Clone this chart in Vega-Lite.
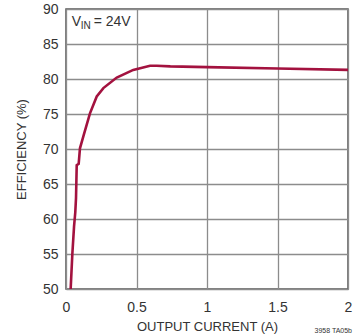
{
  "$schema": "https://vega.github.io/schema/vega-lite/v6.json",
  "width": 282,
  "height": 280,
  "autosize": {"type": "none"},
  "padding": {"left": 66, "top": 9, "right": 5, "bottom": 47},
  "background": "white",
  "config": {
    "view": {"stroke": "#555555", "strokeWidth": 1.5},
    "font": "Liberation Sans",
    "axis": {
      "grid": true,
      "gridColor": "#8c8c8c",
      "gridWidth": 1.3,
      "gridOpacity": 1,
      "domain": false,
      "ticks": false,
      "labelFont": "Liberation Sans",
      "titleFont": "Liberation Sans",
      "labelColor": "#333333",
      "titleColor": "#333333",
      "labelFontSize": 14,
      "titleFontSize": 13,
      "titleFontWeight": "normal",
      "labelOverlap": false
    }
  },
  "data": {
    "values": [
      {"current": 0.033, "efficiency": 50.0},
      {"current": 0.045, "efficiency": 55.0},
      {"current": 0.057, "efficiency": 58.9},
      {"current": 0.066, "efficiency": 61.0},
      {"current": 0.071, "efficiency": 63.0},
      {"current": 0.076, "efficiency": 67.7},
      {"current": 0.090, "efficiency": 67.9},
      {"current": 0.099, "efficiency": 70.1},
      {"current": 0.123, "efficiency": 71.8},
      {"current": 0.170, "efficiency": 75.1},
      {"current": 0.218, "efficiency": 77.5},
      {"current": 0.265, "efficiency": 78.7},
      {"current": 0.360, "efficiency": 80.2},
      {"current": 0.477, "efficiency": 81.3},
      {"current": 0.596, "efficiency": 81.9},
      {"current": 0.643, "efficiency": 81.9},
      {"current": 0.740, "efficiency": 81.8},
      {"current": 1.0, "efficiency": 81.7},
      {"current": 1.5, "efficiency": 81.5},
      {"current": 2.0, "efficiency": 81.3}
    ]
  },
  "encoding": {
    "x": {
      "type": "quantitative",
      "scale": {"domain": [0, 2], "nice": false},
      "axis": {"values": [0, 0.5, 1, 1.5, 2], "labelExpr": "'' + datum.value", "labelPadding": 11, "title": "OUTPUT CURRENT (A)", "titlePadding": 6, "labelFlush": false}
    },
    "y": {
      "type": "quantitative",
      "scale": {"domain": [50, 90], "nice": false},
      "axis": {"values": [50, 55, 60, 65, 70, 75, 80, 85, 90], "labelPadding": 8, "title": "EFFICIENCY (%)", "titlePadding": 14}
    }
  },
  "layer": [
    {
      "mark": {"type": "line", "color": "#a3123f", "strokeWidth": 2.6, "clip": true},
      "encoding": {
        "x": {"field": "current", "type": "quantitative"},
        "y": {"field": "efficiency", "type": "quantitative"}
      }
    },
    {
      "data": {"values": [{"label": "V"}]},
      "mark": {"type": "text", "align": "left", "baseline": "middle", "fontSize": 14, "color": "#333333"},
      "encoding": {"x": {"datum": 0.04, "type": "quantitative"}, "y": {"datum": 88.1, "type": "quantitative"}, "text": {"field": "label"}}
    },
    {
      "data": {"values": [{"label": "IN"}]},
      "mark": {"type": "text", "align": "left", "baseline": "middle", "fontSize": 10, "dx": 9, "dy": 4, "color": "#333333"},
      "encoding": {"x": {"datum": 0.04, "type": "quantitative"}, "y": {"datum": 88.1, "type": "quantitative"}, "text": {"field": "label"}}
    },
    {
      "data": {"values": [{"label": "= 24V"}]},
      "mark": {"type": "text", "align": "left", "baseline": "middle", "fontSize": 14, "dx": 22, "color": "#333333"},
      "encoding": {"x": {"datum": 0.04, "type": "quantitative"}, "y": {"datum": 88.1, "type": "quantitative"}, "text": {"field": "label"}}
    },
    {
      "data": {"values": [{"label": "3958 TA05b"}]},
      "mark": {"type": "text", "align": "right", "baseline": "alphabetic", "fontSize": 7, "dx": 4, "dy": 44, "color": "#333333", "clip": false},
      "encoding": {"x": {"datum": 2, "type": "quantitative"}, "y": {"datum": 50, "type": "quantitative"}, "text": {"field": "label"}}
    }
  ]
}
